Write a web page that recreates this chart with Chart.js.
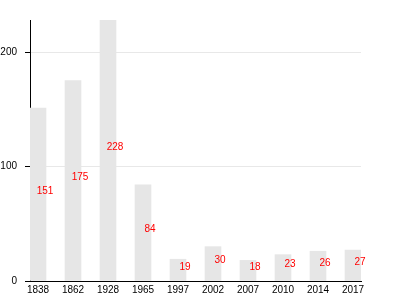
<!DOCTYPE html>
<html><head><meta charset="utf-8">
<script src="https://cdn.jsdelivr.net/npm/chart.js@4/dist/chart.umd.min.js"></script>
<style>html,body{margin:0;padding:0;background:#fff}#wrap{width:400px;height:300px}</style>
</head><body><div id="wrap"><canvas id="c"></canvas></div>
<script>
const categories = ['1838','1862','1928','1965','1997','2002','2007','2010','2014','2017'];
const values = [151,175,228,84,19,30,18,23,26,27];
const yTicks = [0,100,200];

const labelPlugin = {
  id: 'barLabels',
  afterDatasetsDraw(chart) {
    const ctx = chart.ctx;
    const meta = chart.getDatasetMeta(0);
    ctx.save();
    ctx.font = '10px "Liberation Sans", Arial, sans-serif';
    ctx.fillStyle = '#ff0000';
    ctx.textAlign = 'center';
    ctx.textBaseline = 'middle';
    meta.data.forEach((bar, i) => {
      const mid = (bar.y + bar.base) / 2;
      ctx.fillText(String(values[i]), bar.x + 7, mid - 3);
    });
    ctx.restore();
  }
};

new Chart(document.getElementById('c'), {
  type: 'bar',
  data: {
    datasets: [{
      data: values.map((v, i) => ({x: i, y: v})),
      backgroundColor: '#e6e6e6',
      borderWidth: 0,
      barThickness: 16
    }]
  },
  options: {
    responsive: true,
    maintainAspectRatio: false,
    animation: false,
    layout: {padding: {top: 20, right: 39, left: 0, bottom: 1}},
    plugins: {legend: {display: false}, tooltip: {enabled: false}},
    scales: {
      x: {
        type: 'linear',
        offset: false,
        min: -0.2286,
        max: 9.2286,
        afterBuildTicks(scale) { scale.ticks = categories.map((_, i) => ({value: i})); },
        ticks: {
          callback: (v) => categories[v] ?? '',
          color: '#000',
          font: {size: 10, family: '"Liberation Sans", Arial, sans-serif'},
          padding: 3,
          maxRotation: 0,
          autoSkip: false
        },
        grid: {display: false, drawTicks: false, tickLength: 0, offset: false},
        border: {display: true, color: '#000', width: 1}
      },
      y: {
        min: 0,
        max: 228,
        afterBuildTicks(scale) { scale.ticks = yTicks.map(v => ({value: v})); },
        afterFit(scale) { scale.width = 30; },
        ticks: {
          color: '#000',
          font: {size: 10, family: '"Liberation Sans", Arial, sans-serif'},
          padding: 8
        },
        grid: {color: '#e8e8e8', tickColor: '#000', tickLength: 5},
        border: {display: true, color: '#000', width: 1}
      }
    }
  },
  plugins: [labelPlugin]
});
</script></body></html>
